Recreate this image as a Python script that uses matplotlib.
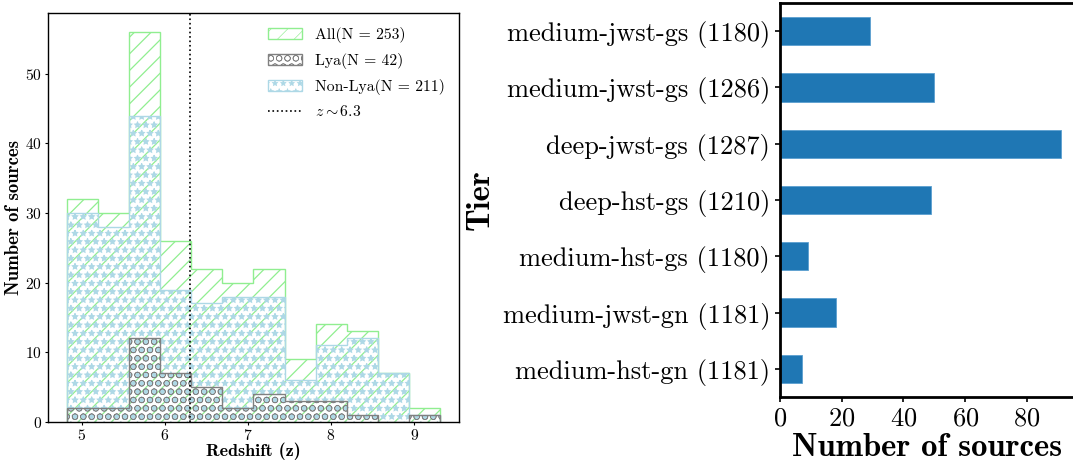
import numpy as np
import matplotlib
matplotlib.use("Agg")
import matplotlib.pyplot as plt

# ---- data -------------------------------------------------------------
z_edges = np.linspace(4.816, 9.316, 13)          # redshift bin edges
n_all = [32, 30, 56, 26, 22, 20, 22, 9, 14, 13, 7, 2]
n_lya = [2, 2, 12, 7, 5, 2, 4, 3, 3, 1, 0, 1]
n_nonlya = [30, 28, 44, 19, 17, 18, 18, 6, 11, 12, 7, 1]
z_split = 6.3

tiers = ["medium-jwst-gs (1180)", "medium-jwst-gs (1286)", "deep-jwst-gs (1287)",
         "deep-hst-gs (1210)", "medium-hst-gs (1180)", "medium-jwst-gn (1181)",
         "medium-hst-gn (1181)"]
tier_counts = [29, 50, 91, 49, 9, 18, 7]

# ---- style ------------------------------------------------------------
plt.rcParams["font.family"] = "cmr10"
plt.rcParams["mathtext.fontset"] = "cm"
plt.rcParams["axes.formatter.use_mathtext"] = True

fig = plt.figure(figsize=(10.73, 4.62), dpi=100)
ax1 = fig.add_axes([0.0447, 0.0872, 0.3831, 0.8853])
ax2 = fig.add_axes([0.7269, 0.1407, 0.2750, 0.8528])

# ---- left: redshift histograms ----------------------------------------
centers = 0.5 * (z_edges[:-1] + z_edges[1:])
plt.rcParams["hatch.linewidth"] = 0.9
ax1.hist(centers, bins=z_edges, weights=n_all, histtype="step",
         color="lightgreen", hatch="//", lw=1.0, label="All(N = 253)")
plt.rcParams["hatch.linewidth"] = 0.8
ax1.hist(centers, bins=z_edges, weights=n_nonlya, histtype="step",
         color="lightblue", hatch="**", lw=1.0, label="Non-Lya(N = 211)")
plt.rcParams["hatch.linewidth"] = 0.45
ax1.hist(centers, bins=z_edges, weights=n_lya, histtype="step",
         color="gray", hatch="OO", lw=1.0, label="Lya(N = 42)")
ax1.axvline(z_split, color="black", ls=":", lw=1.2, label=r"$z \sim 6.3$")

ax1.set_xlabel("Redshift (z)", family="cmb10", fontsize=13, labelpad=0)
ax1.set_ylabel("Number of sources", family="cmb10", fontsize=13.5, labelpad=1.5)
ax1.tick_params(labelsize=11.2, length=2.5, width=0.8, pad=2)
ax1.set_yticks([0, 10, 20, 30, 40, 50])
for s in ax1.spines.values():
    s.set_linewidth(1.0)

h, l = ax1.get_legend_handles_labels()
order = [0, 2, 1, 3]
ax1.legend([h[i] for i in order], [l[i] for i in order], loc="upper right",
           frameon=False, fontsize=11.3, handlelength=2.2, handletextpad=0.8,
           labelspacing=0.63)

# ---- right: sources per tier ------------------------------------------
ypos = np.arange(len(tiers))[::-1]
ax2.barh(ypos, tier_counts, height=0.5, color="#1f77b4",
         edgecolor="#5b9fd0", lw=0.6)
ax2.set_yticks(ypos)
ax2.set_yticklabels(tiers)
ax2.set_ylim(-0.5, len(tiers) - 0.5)
ax2.set_xlim(0, max(tier_counts) * 1.05)
ax2.set_xticks([0, 20, 40, 60, 80])
ax2.tick_params(labelsize=19, length=3.5, width=1.2)
ax2.set_ylabel("Tier", family="cmb10", fontsize=23.5, labelpad=6)
ax2.set_xlabel("Number of sources", family="cmb10", fontsize=23.5, labelpad=2)
for s in ax2.spines.values():
    s.set_linewidth(2.0)

fig.savefig("out.png", dpi=100)
